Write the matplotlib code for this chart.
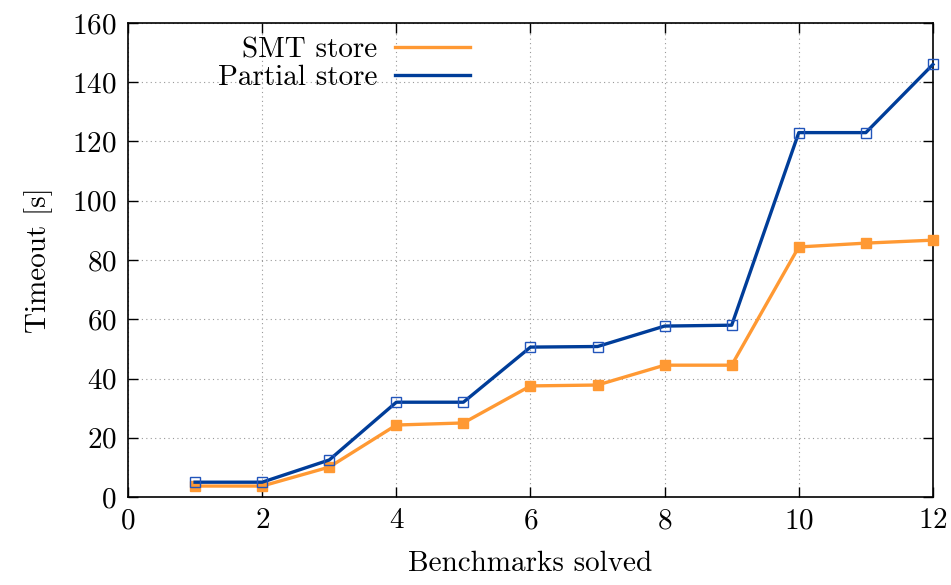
import matplotlib
matplotlib.use("Agg")
import matplotlib.pyplot as plt
from matplotlib.lines import Line2D

plt.rcParams['font.family'] = 'cmr10'
plt.rcParams['mathtext.fontset'] = 'cm'
plt.rcParams['axes.formatter.use_mathtext'] = True

solved = [1, 2, 3, 4, 5, 6, 7, 8, 9, 10, 11, 12]
smt_store = [3.7, 3.7, 10.1, 24.3, 25.0, 37.5, 37.8, 44.5, 44.5, 84.4, 85.7, 86.7]
partial_store = [5.0, 5.0, 12.5, 32.0, 32.0, 50.6, 50.8, 57.7, 58.0, 123.0, 123.0, 146.0]

orange = '#ff9933'
blue = '#003d99'

fig = plt.figure(figsize=(9.51, 5.85), dpi=100)
ax = fig.add_axes([0.1346, 0.1504, 0.8464, 0.8103])

ax.plot(solved, smt_store, color=orange, lw=2.4, marker='s', ms=7,
        mfc=orange, mec=orange, zorder=3, clip_on=False)
ax.plot(solved, partial_store, color=blue, lw=2.4, marker='s', ms=7.5,
        mfc='none', mec='#2255bb', mew=1.0, zorder=4, clip_on=False)

ax.set_xlim(0, 12)
ax.set_ylim(0, 160)
ax.set_xticks(range(0, 13, 2))
ax.set_yticks(range(0, 161, 20))
ax.grid(True, color='#999999', linestyle=(0, (1, 3)), linewidth=0.8)
ax.tick_params(direction='in', length=7, width=1, top=True, right=True,
               labelsize=21, pad=8)
for s in ax.spines.values():
    s.set_linewidth(1.2)

ax.set_xlabel('Benchmarks solved', fontsize=21, labelpad=12)
ax.set_ylabel('Timeout [s]', fontsize=21, labelpad=14)

handles = [Line2D([], [], color=orange, lw=2.4),
           Line2D([], [], color=blue, lw=2.4)]
leg = ax.legend(handles, ['SMT store', 'Partial store'], loc='upper left',
                bbox_to_anchor=(0.086, 1.014), markerfirst=False, frameon=False,
                fontsize=21, handlelength=2.6, handletextpad=0.6,
                labelspacing=0.05, borderpad=0.2)
for t in leg.get_texts():
    t.set_ha('right')

fig.savefig('out.png', dpi=100)
